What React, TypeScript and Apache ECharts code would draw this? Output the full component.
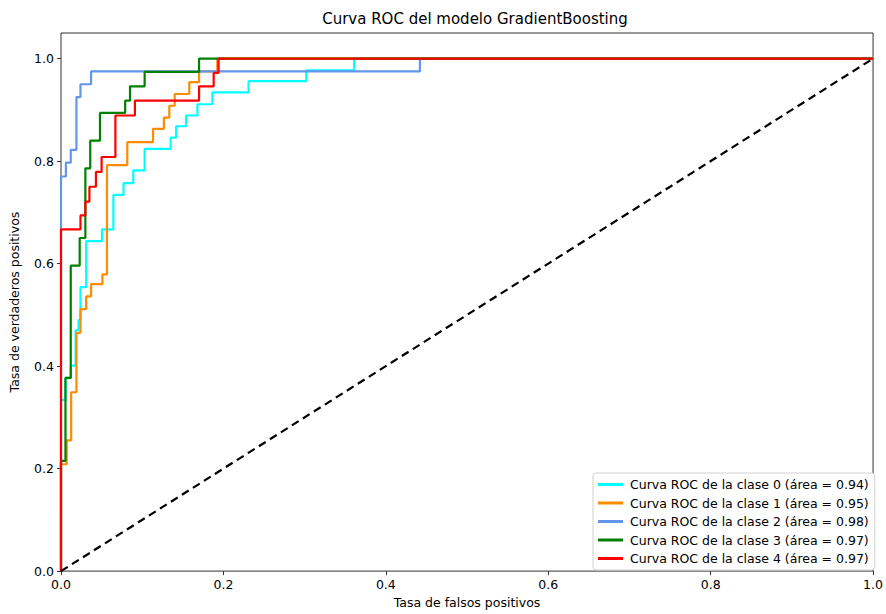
import React, { useEffect, useRef } from "react";
import * as echarts from "echarts";

const classNames = [
  "Curva ROC de la clase 0 (área = 0.94)",
  "Curva ROC de la clase 1 (área = 0.95)",
  "Curva ROC de la clase 2 (área = 0.98)",
  "Curva ROC de la clase 3 (área = 0.97)",
  "Curva ROC de la clase 4 (área = 0.97)",
];
const classColors = ["#00ffff", "#ff8c00", "#6495ed", "#008000", "#ff0000"];

const fpr0 = [0, 0, 0.0055, 0.0055, 0.012, 0.012, 0.018, 0.018, 0.0216, 0.0216, 0.024, 0.024, 0.031, 0.031, 0.0505, 0.0505, 0.0645, 0.0645, 0.077, 0.077, 0.089, 0.089, 0.103, 0.103, 0.135, 0.135, 0.1417, 0.1417, 0.154, 0.154, 0.168, 0.168, 0.1864, 0.1864, 0.231, 0.231, 0.302, 0.302, 0.361, 0.361, 1];
const tpr0 = [0, 0.334, 0.334, 0.377, 0.377, 0.401, 0.401, 0.47, 0.47, 0.49, 0.49, 0.554, 0.554, 0.644, 0.644, 0.667, 0.667, 0.734, 0.734, 0.757, 0.757, 0.782, 0.782, 0.824, 0.824, 0.846, 0.846, 0.868, 0.868, 0.889, 0.889, 0.911, 0.911, 0.934, 0.934, 0.956, 0.956, 0.977, 0.977, 1, 1];

const fpr1 = [0, 0, 0.007, 0.007, 0.0125, 0.0125, 0.019, 0.019, 0.024, 0.024, 0.031, 0.031, 0.037, 0.037, 0.051, 0.051, 0.0566, 0.0566, 0.0816, 0.0816, 0.1133, 0.1133, 0.1267, 0.1267, 0.1334, 0.1334, 0.14, 0.14, 0.158, 0.158, 0.17, 0.17, 0.1925, 0.1925, 1];
const tpr1 = [0, 0.2085, 0.2085, 0.255, 0.255, 0.349, 0.349, 0.465, 0.465, 0.511, 0.511, 0.536, 0.536, 0.56, 0.56, 0.579, 0.579, 0.792, 0.792, 0.837, 0.837, 0.863, 0.863, 0.885, 0.885, 0.908, 0.908, 0.931, 0.931, 0.954, 0.954, 0.975, 0.975, 1, 1];

const fpr2 = [0, 0, 0.006, 0.006, 0.012, 0.012, 0.019, 0.019, 0.024, 0.024, 0.037, 0.037, 0.442, 0.442, 1];
const tpr2 = [0, 0.77, 0.77, 0.797, 0.797, 0.822, 0.822, 0.925, 0.925, 0.95, 0.95, 0.975, 0.975, 1, 1];

const fpr3 = [0, 0, 0.0055, 0.0055, 0.012, 0.012, 0.023, 0.023, 0.03, 0.03, 0.036, 0.036, 0.048, 0.048, 0.079, 0.079, 0.085, 0.085, 0.103, 0.103, 0.17, 0.17, 1];
const tpr3 = [0, 0.215, 0.215, 0.377, 0.377, 0.596, 0.596, 0.65, 0.65, 0.786, 0.786, 0.84, 0.84, 0.894, 0.894, 0.918, 0.918, 0.946, 0.946, 0.974, 0.974, 1, 1];

const fpr4 = [0, 0, 0.024, 0.024, 0.03, 0.03, 0.035, 0.035, 0.043, 0.043, 0.05, 0.05, 0.067, 0.067, 0.091, 0.091, 0.17, 0.17, 0.188, 0.188, 0.194, 0.194, 1];
const tpr4 = [0, 0.667, 0.667, 0.694, 0.694, 0.721, 0.721, 0.75, 0.75, 0.779, 0.779, 0.808, 0.808, 0.889, 0.889, 0.918, 0.918, 0.946, 0.946, 0.972, 0.972, 1, 1];

const fprs = [fpr0, fpr1, fpr2, fpr3, fpr4];
const tprs = [tpr0, tpr1, tpr2, tpr3, tpr4];

const diagX = [0, 1];
const diagY = [0, 1];

const xTicks = [0, 0.2, 0.4, 0.6, 0.8, 1.0];
const yTicks = [0, 0.2, 0.4, 0.6, 0.8, 1.0];

const FONT = "DejaVu Sans";

export default function App() {
  const ref = useRef<HTMLDivElement>(null);
  useEffect(() => {
    document.body.style.margin = "0";
    document.body.style.overflow = "hidden";
    document.documentElement.style.overflow = "hidden";
    if (!ref.current) return;
    const chart = echarts.init(ref.current, null, { renderer: "svg" });
    const series: any[] = classNames.map((name, i) => ({
      name,
      type: "line",
      data: fprs[i].map((x, j) => [x, tprs[i][j]]),
      showSymbol: false,
      symbol: "none",
      lineStyle: { color: classColors[i], width: 2.2 },
      itemStyle: { color: classColors[i] },
      z: 2 + i,
    }));
    series.push({
      name: "diag",
      type: "line",
      data: diagX.map((x, j) => [x, diagY[j]]),
      symbol: "none",
      lineStyle: { color: "#000", width: 2.2, type: [8, 5] },
      z: 10,
    });
    chart.setOption({
      animation: false,
      backgroundColor: "#fff",
      textStyle: { fontFamily: FONT },
      title: {
        text: "Curva ROC del modelo GradientBoosting",
        left: 470,
        textAlign: "center",
        top: 6,
        textStyle: { fontFamily: FONT, fontSize: 15, fontWeight: "normal", color: "#000" },
      },
      grid: {
        left: 57,
        right: 8,
        top: 33,
        bottom: 37,
        show: true,
        borderColor: "#333",
        borderWidth: 1,
        backgroundColor: "transparent",
      },
      legend: {
        data: classNames,
        orient: "vertical",
        left: 593,
        top: 473,
        itemWidth: 25,
        itemHeight: 3,
        itemGap: 5.5,
        icon: "rect",
        padding: [5, 6, 5, 5],
        borderColor: "#d0d0d0",
        borderWidth: 1,
        borderRadius: 3,
        backgroundColor: "#fff",
        textStyle: { fontFamily: FONT, fontSize: 12.5, color: "#000", padding: [0, 0, 0, 2] },
      },
      xAxis: {
        type: "value",
        min: 0,
        max: 1,
        interval: 0.2,
        name: "Tasa de falsos positivos",
        nameLocation: "middle",
        nameGap: 23,
        nameTextStyle: { fontFamily: FONT, fontSize: 12.5, color: "#000" },
        axisLine: { show: false },
        axisTick: { show: true, length: 4, lineStyle: { color: "#333" }, customValues: xTicks },
        axisLabel: {
          fontFamily: FONT,
          fontSize: 12.5,
          color: "#000",
          margin: 7,
          customValues: xTicks,
          formatter: (v: number) => v.toFixed(1),
        },
        splitLine: { show: false },
      },
      yAxis: {
        type: "value",
        min: 0,
        max: 1.05,
        name: "Tasa de verdaderos positivos",
        nameLocation: "middle",
        nameGap: 40,
        nameTextStyle: { fontFamily: FONT, fontSize: 12.5, color: "#000" },
        axisLine: { show: false },
        axisTick: { show: true, length: 4, lineStyle: { color: "#333" }, customValues: yTicks },
        axisLabel: {
          fontFamily: FONT,
          fontSize: 12.5,
          color: "#000",
          margin: 7,
          customValues: yTicks,
          formatter: (v: number) => v.toFixed(1),
        },
        splitLine: { show: false },
      },
      series,
    });
    return () => chart.dispose();
  }, []);
  return (
    <div
      ref={ref}
      style={{ position: "fixed", left: 0, top: 0, width: 886, height: 614 }}
    />
  );
}
